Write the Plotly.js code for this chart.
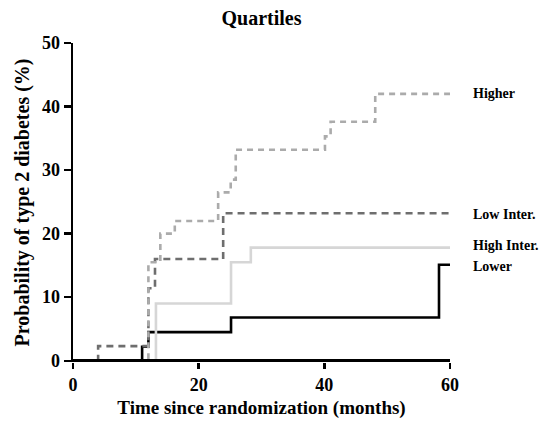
<!DOCTYPE html>
<html>
<head>
<meta charset="utf-8">
<script src="https://cdn.plot.ly/plotly-3.0.1.min.js"></script>
<style>html,body{margin:0;padding:0;background:#fff;}#chart{width:540px;height:422px;}</style>
</head>
<body>
<div id="chart"></div>
<script>
// Step-function data (months, cumulative %)
const higherX = [0, 12.0, 13.9, 16.2, 23.1, 25.1, 25.9, 40.1, 41.0, 48.1, 60];
const higherY = [0, 15.5, 20.0, 22.0, 26.5, 28.5, 33.2, 35.3, 37.6, 42.0, 42.0];

const lowInterX = [0, 4.0, 12.0, 13.05, 23.9, 60];
const lowInterY = [0, 2.3, 11.4, 16.0, 23.2, 23.2];

const highInterX = [0, 13.2, 25.15, 28.3, 60];
const highInterY = [0, 9.0, 15.5, 17.8, 17.8];

const lowerX = [0, 11.0, 12.0, 25.15, 58.25, 60];
const lowerY = [0, 2.2, 4.5, 6.8, 15.1, 15.1];

const seriesNames = ["Higher", "Low Inter.", "High Inter.", "Lower"];
const labelY = [42.1, 23.0, 18.2, 14.8];
const xTicks = [0, 20, 40, 60];
const yTicks = [0, 10, 20, 30, 40, 50];

const serif = "'Liberation Serif'";

const traces = [
  {x: lowerX, y: lowerY, name: seriesNames[3], mode: "lines",
   line: {shape: "hv", color: "#000000", width: 2.6}},
  {x: highInterX, y: highInterY, name: seriesNames[2], mode: "lines",
   line: {shape: "hv", color: "#d6d6d6", width: 2.6}},
  {x: lowInterX, y: lowInterY, name: seriesNames[1], mode: "lines",
   line: {shape: "hv", color: "#6e6e6e", width: 2.6, dash: "7px,5px"}},
  {x: higherX, y: higherY, name: seriesNames[0], mode: "lines",
   line: {shape: "hv", color: "#ababab", width: 2.6, dash: "6px,5px"}}
];

// labels to the right of the plot area, at each series' end level
const annotations = seriesNames.map((n, i) => ({
  x: 1.056, y: labelY[i], xref: "paper", yref: "y", text: "<b>" + n + "</b>",
  showarrow: false, xanchor: "left", yanchor: "middle",
  font: {family: serif, size: 14, color: "#000"}
}));

const layout = {
  width: 540, height: 422,
  margin: {l: 73, r: 90, t: 43, b: 60},
  paper_bgcolor: "#fff", plot_bgcolor: "#fff",
  showlegend: false,
  title: {text: "<b>Quartiles</b>", x: 0.5, xref: "paper", y: 0.957, yref: "container",
          xanchor: "center", yanchor: "middle",
          font: {family: serif, size: 20, color: "#000"}},
  xaxis: {
    range: [0, 60], tickvals: xTicks, ticks: "outside", ticklen: 6, tickwidth: 2.4,
    tickcolor: "#000", showline: false,
    showgrid: false, zeroline: false, layer: "above traces",
    tickfont: {family: serif, size: 18, color: "#000", weight: "bold"},
    title: {text: "<b>Time since randomization (months)</b>", standoff: 7,
            font: {family: serif, size: 19, color: "#000"}}
  },
  yaxis: {
    range: [-0.2, 50], tickvals: yTicks, ticks: "outside", ticklen: 7, tickwidth: 2.4,
    tickcolor: "#000", showline: true, linecolor: "#000", linewidth: 2.4,
    showgrid: false, zeroline: true, zerolinecolor: "#000", zerolinewidth: 2.8,
    zerolinelayer: "above traces", layer: "above traces",
    tickfont: {family: serif, size: 18, color: "#000", weight: "bold"},
    title: {text: "<b>Probability of type 2 diabetes (%)</b>", standoff: 7,
            font: {family: serif, size: 20, color: "#000"}}
  },
  annotations: annotations
};

Plotly.newPlot("chart", traces, layout, {displayModeBar: false, staticPlot: true});
</script>
</body>
</html>
